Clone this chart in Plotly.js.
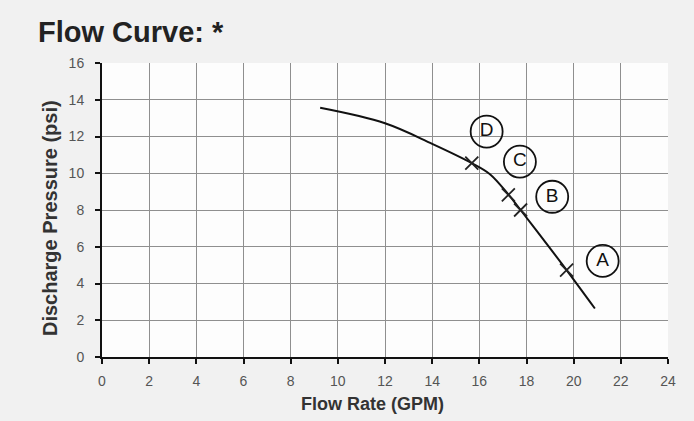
<!DOCTYPE html>
<html>
<head>
<meta charset="utf-8">
<script src="https://cdn.plot.ly/plotly-3.0.1.min.js"></script>
<style>html,body{margin:0;padding:0;background:#f1f1f1;}#chart{width:694px;height:421px;}</style>
</head>
<body>
<div id="chart"></div>
<script>
// Flow curve
const curveFlow = [9.25, 12.0, 14.0, 15.68, 16.45, 17.23, 17.75, 18.71, 19.7, 20.9];
const curvePressure = [13.56, 12.72, 11.6, 10.55, 9.95, 8.85, 8.0, 6.4, 4.73, 2.64];
// Operating points marked with X
const pointFlow = [19.7, 17.75, 17.23, 15.68];
const pointPressure = [4.73, 8.0, 8.82, 10.55];
// Circled letters
const labelText = ["A", "B", "C", "D"];
const labelFlow = [21.23, 19.09, 17.72, 16.31];
const labelPressure = [5.23, 8.72, 10.63, 12.27];
// Tick values
const xTicks = [0, 2, 4, 6, 8, 10, 12, 14, 16, 18, 20, 22, 24];
const yTicks = [0, 2, 4, 6, 8, 10, 12, 14, 16];

const font = "Liberation Sans, Arial, Helvetica, sans-serif";

const traces = [
  {x: curveFlow, y: curvePressure, mode: "lines", type: "scatter",
   line: {color: "#111", width: 2, shape: "spline", smoothing: 1.0}, hoverinfo: "skip"},
  {x: pointFlow, y: pointPressure, mode: "markers", type: "scatter",
   marker: {symbol: "x-thin", size: 13, line: {color: "#222", width: 1.8}}},
  {x: labelFlow, y: labelPressure, mode: "markers+text", type: "scatter", text: labelText,
   textposition: "middle center", textfont: {family: font, size: 19, color: "#111"},
   marker: {symbol: "circle-open", size: 32, color: "#111", line: {color: "#111", width: 1.8}}}
];

const layout = {
  width: 694, height: 421,
  margin: {l: 102, r: 26, t: 63, b: 64},
  paper_bgcolor: "#f1f1f1", plot_bgcolor: "#fdfdfd",
  showlegend: false,
  title: {text: "<b>Flow Curve: *</b>", font: {family: font, size: 29, color: "#222"},
          xref: "container", x: 38/694, xanchor: "left", yref: "container", y: 1 - 31.5/421, yanchor: "middle"},
  xaxis: {range: [0, 24], tickvals: xTicks, ticktext: xTicks.map(String), showgrid: true, gridcolor: "#8f8f8f", gridwidth: 1,
          zeroline: false, showline: true, linecolor: "#111", linewidth: 2, ticks: "outside", ticklen: 5, tickwidth: 2,
          tickcolor: "#111", ticklabelstandoff: 5, tickfont: {family: font, size: 14, color: "#555"}, fixedrange: true},
  yaxis: {range: [0, 16], tickvals: yTicks, ticktext: yTicks.map(String), showgrid: true, gridcolor: "#8f8f8f", gridwidth: 1,
          zeroline: false, showline: true, linecolor: "#111", linewidth: 2, ticks: "outside", ticklen: 5, tickwidth: 2,
          tickcolor: "#111", ticklabelstandoff: 8, tickfont: {family: font, size: 14, color: "#555"}, fixedrange: true},
  annotations: [
    {text: "<b>Flow Rate (GPM)</b>", xref: "paper", yref: "paper", x: (372-102)/566, y: -(404-357)/294,
     xanchor: "center", yanchor: "middle", showarrow: false, font: {family: font, size: 18, color: "#333"}},
    {text: "<b>Discharge Pressure (psi)</b>", xref: "paper", yref: "paper", x: -(102-50)/566, y: (357-218)/294,
     xanchor: "center", yanchor: "middle", textangle: -90, showarrow: false, font: {family: font, size: 20, color: "#333"}}
  ]
};

Plotly.newPlot("chart", traces, layout, {displayModeBar: false, staticPlot: true});
</script>
</body>
</html>
